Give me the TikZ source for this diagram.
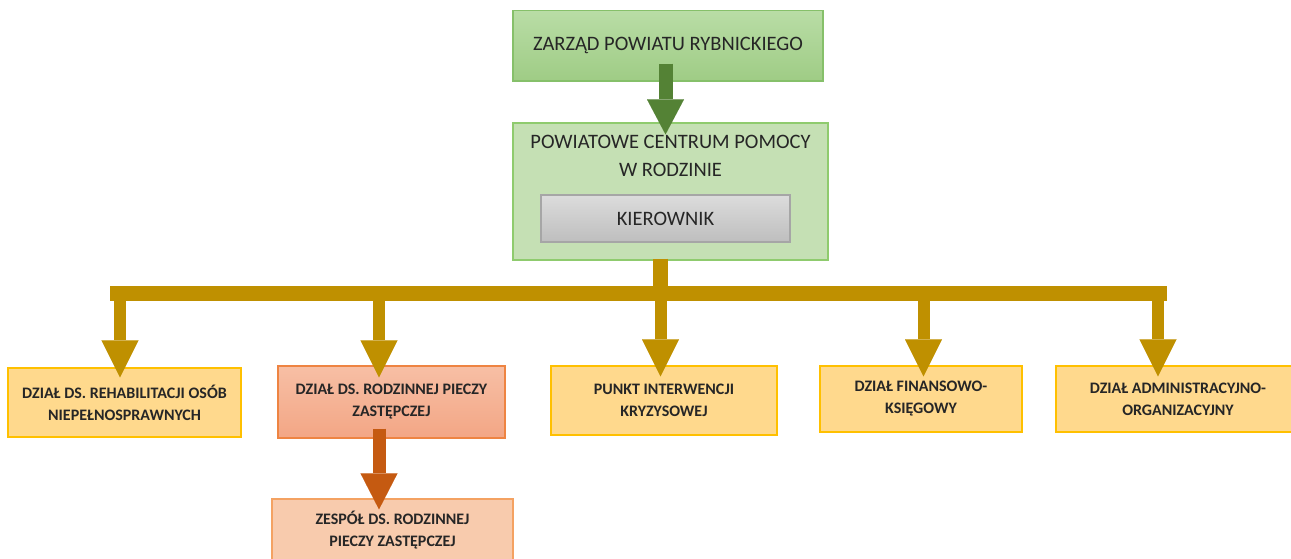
\documentclass[tikz,border=0pt]{standalone}
\usepackage{fontspec}
\setmainfont{Carlito}
\usetikzlibrary{arrows.meta,positioning}
\usepackage{xcolor}

\definecolor{topgreenA}{HTML}{B9DDA6}
\definecolor{topgreenB}{HTML}{9FCC85}
\definecolor{topgreenline}{HTML}{86C06A}
\definecolor{pcprfill}{HTML}{C5E0B4}
\definecolor{pcprline}{HTML}{8FCB6E}
\definecolor{kierA}{HTML}{DCDCDC}
\definecolor{kierB}{HTML}{BEBEBE}
\definecolor{kierline}{HTML}{A6A6A6}
\definecolor{arrowgreen}{HTML}{548235}
\definecolor{arrowgold}{HTML}{BF9000}
\definecolor{dzfill}{HTML}{FFD98D}
\definecolor{dzline}{HTML}{FFC000}
\definecolor{rodzA}{HTML}{F7BFA5}
\definecolor{rodzB}{HTML}{F3A685}
\definecolor{rodzline}{HTML}{EE8442}
\definecolor{arroworange}{HTML}{C55A11}
\definecolor{zespfill}{HTML}{F8CBAD}
\definecolor{zespline}{HTML}{F4A262}
\definecolor{txt}{HTML}{262626}

\begin{document}
\begin{tikzpicture}[x=1pt,y=-1pt,
    bigtext/.style={font=\fontsize{20.5}{28}\selectfont,text=txt,align=center,inner sep=0pt},
    smalltext/.style={font=\bfseries\fontsize{16}{22}\selectfont,text=txt,align=center,inner sep=0pt},
    topbox/.style={bigtext,draw=topgreenline,line width=1.3pt,top color=topgreenA,bottom color=topgreenB},
    pcprbox/.style={draw=pcprline,line width=1.3pt,fill=pcprfill},
    kierbox/.style={bigtext,draw=kierline,line width=1.3pt,top color=kierA,bottom color=kierB},
    dzbox/.style={smalltext,draw=dzline,line width=1.3pt,fill=dzfill},
    rodzbox/.style={smalltext,draw=rodzline,line width=1.3pt,top color=rodzA,bottom color=rodzB},
    zespbox/.style={smalltext,draw=zespline,line width=1.3pt,fill=zespfill},
    goldline/.style={draw=arrowgold,line width=15pt},
    goldarrow/.style={draw=arrowgold,line width=12pt,-{Triangle[width=37pt,length=37pt,line width=0.01pt]}},
    greenarrow/.style={draw=arrowgreen,line width=14pt,-{Triangle[width=37pt,length=35pt,line width=0.01pt]}},
    orangearrow/.style={draw=arroworange,line width=13pt,-{Triangle[width=37pt,length=36pt,line width=0.01pt]}}]
  \useasboundingbox (0,0) rectangle (1291,558);

  % top box is cut off at its upper edge
  \begin{scope}
    \clip (0,10.7) rectangle (1291,558);
    \node[topbox,minimum width=310pt,minimum height=71pt] (zarzad) at (668,45.5) {ZARZĄD POWIATU RYBNICKIEGO};
  \end{scope}
  \node[pcprbox,minimum width=315pt,minimum height=137pt] (pcpr) at (670.5,191.5) {};
  \node[bigtext,below=13pt of pcpr.north] (pcprname) {POWIATOWE CENTRUM POMOCY\\W RODZINIE};
  \node[kierbox,minimum width=249pt,minimum height=47pt] (kier) at (665.5,218.5) {KIEROWNIK};

  \node[dzbox,minimum width=233pt,minimum height=69pt] (rehab) at (124.5,402.5) {DZIAŁ DS. REHABILITACJI OSÓB\\NIEPEŁNOSPRAWNYCH};
  \node[rodzbox,minimum width=227pt,minimum height=72pt] (rodz) at (391.5,402) {DZIAŁ DS. RODZINNEJ PIECZY\\ZASTĘPCZEJ};
  \node[dzbox,minimum width=226pt,minimum height=69pt] (punkt) at (664,400.5) {PUNKT INTERWENCJI\\KRYZYSOWEJ};
  \node[dzbox,minimum width=202pt,minimum height=66pt] (fin) at (921,399) {DZIAŁ FINANSOWO-\\KSIĘGOWY};
  \node[dzbox,minimum width=244pt,minimum height=66pt] (admin) at (1178,399) {DZIAŁ ADMINISTRACYJNO-\\ORGANIZACYJNY};
  \node[zespbox,minimum width=241pt,minimum height=62pt] (zesp) at (392.5,530) {ZESPÓŁ DS. RODZINNEJ\\PIECZY ZASTĘPCZEJ};

  \coordinate (hub) at (660.5,293.5);
  \coordinate (barL) at (110,293.5);
  \coordinate (barR) at (1167,293.5);

  \draw[greenarrow] ([yshift=18pt]zarzad.south -| kier) -- ([yshift=-12pt]pcpr.north -| kier);
  \draw[goldline] ([yshift=2pt]pcpr.south -| hub) -- (hub);
  \draw[goldline] (barL) -- (barR);
  \draw[goldarrow] ([xshift=-4.5pt]rehab.north |- hub) -- ([xshift=-4.5pt,yshift=-10pt]rehab.north);
  \draw[goldarrow] ([xshift=-12.5pt]rodz.north |- hub) -- ([xshift=-12.5pt,yshift=-12pt]rodz.north);
  \draw[goldarrow] ([xshift=-3.5pt]punkt.north |- hub) -- ([xshift=-3.5pt,yshift=-11pt]punkt.north);
  \draw[goldarrow] ([xshift=2.5pt]fin.north |- hub) -- ([xshift=2.5pt,yshift=-11pt]fin.north);
  \draw[goldarrow] ([xshift=-20pt]admin.north |- hub) -- ([xshift=-20pt,yshift=-11pt]admin.north);
  \draw[orangearrow] ([xshift=-12.5pt,yshift=10pt]rodz.south) -- ([xshift=-12.5pt,yshift=-11pt]zesp.north -| rodz.south);
\end{tikzpicture}
\end{document}
